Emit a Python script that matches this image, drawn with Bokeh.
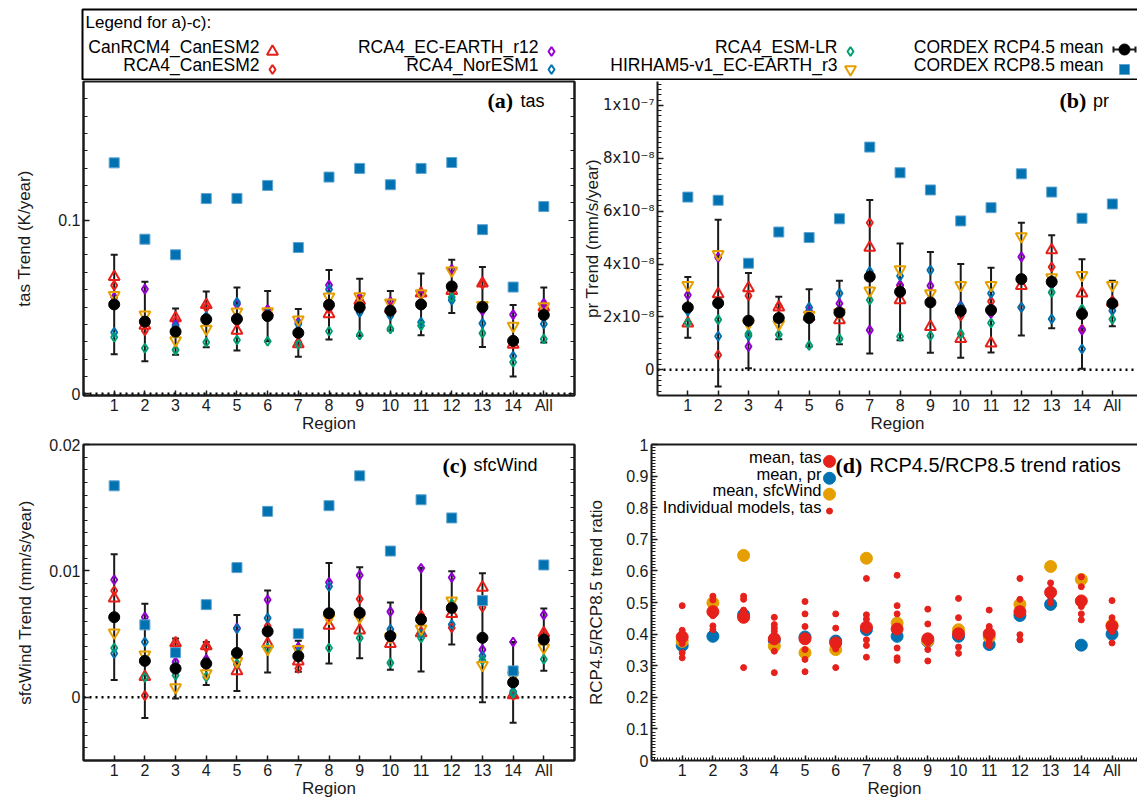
import numpy as np
from bokeh.plotting import figure
from bokeh.layouts import column, row
from bokeh.models import Range1d, FixedTicker, LinearAxis, Span, Whisker, TeeHead, ColumnDataSource
from bokeh.core.properties import value
from bokeh.embed import file_html
from bokeh.resources import INLINE

# ------------------------------------------------------------------ data
regions = ["1", "2", "3", "4", "5", "6", "7", "8", "9", "10", "11", "12", "13", "14", "All"]
models = ["CanRCM4_CanESM2", "RCA4_CanESM2", "RCA4_EC-EARTH_r12",
          "RCA4_NorESM1", "RCA4_ESM-LR", "HIRHAM5-v1_EC-EARTH_r3"]

# (a) near-surface temperature trend, K/year
tas_rcp85 = [0.1331, 0.0891, 0.0801, 0.1125, 0.1126, 0.1201, 0.0843, 0.1249,
             0.1299, 0.1205, 0.1299, 0.1333, 0.0946, 0.0615, 0.1079]
tas_rcp45 = [0.0515, 0.0416, 0.0358, 0.0429, 0.0431, 0.0448, 0.0351, 0.0513,
             0.0498, 0.0479, 0.0515, 0.0619, 0.0500, 0.0305, 0.0454]
tas_rcp45_spread = [0.0287, 0.0229, 0.0133, 0.0161, 0.0181, 0.0145, 0.0138, 0.0200,
                    0.0165, 0.0114, 0.0178, 0.0153, 0.0230, 0.0206, 0.0159]
tas_models = [
    [0.0674, 0.0393, 0.0437, 0.0513, 0.0364, 0.0470, 0.0287, 0.0460, 0.0536, 0.0490, 0.0579, 0.0594, 0.0636, 0.0284, 0.0498],
    [0.0625, 0.0364, 0.0420, 0.0498, 0.0412, 0.0483, 0.0297, 0.0489, 0.0517, 0.0485, 0.0570, 0.0594, 0.0632, 0.0290, 0.0500],
    [0.0556, 0.0603, 0.0397, 0.0440, 0.0517, 0.0485, 0.0412, 0.0626, 0.0556, 0.0531, 0.0575, 0.0718, 0.0479, 0.0456, 0.0521],
    [0.0354, 0.0420, 0.0387, 0.0445, 0.0527, 0.0465, 0.0402, 0.0602, 0.0469, 0.0450, 0.0412, 0.0540, 0.0406, 0.0216, 0.0402],
    [0.0326, 0.0262, 0.0253, 0.0297, 0.0310, 0.0303, 0.0284, 0.0360, 0.0339, 0.0374, 0.0393, 0.0556, 0.0349, 0.0182, 0.0316],
    [0.0569, 0.0456, 0.0307, 0.0374, 0.0473, 0.0475, 0.0427, 0.0559, 0.0561, 0.0525, 0.0579, 0.0709, 0.0511, 0.0391, 0.0504],
]

# (b) precipitation trend, in units of 1e-8 mm/s/year
PR_UNIT = 1e-8
pr_rcp85 = [6.53, 6.41, 4.03, 5.21, 5.00, 5.71, 8.42, 7.45, 6.80, 5.63, 6.13, 7.41, 6.72, 5.73, 6.27]
pr_rcp45 = [2.36, 2.52, 1.86, 1.96, 1.96, 2.17, 3.52, 2.95, 2.55, 2.23, 2.26, 3.43, 3.33, 2.11, 2.51]
pr_rcp45_spread = [1.15, 3.15, 1.80, 0.80, 1.09, 1.20, 2.90, 1.83, 1.90, 1.77, 1.60, 2.13, 1.76, 2.07, 0.86]
pr_models = [
    [1.76, 2.86, 3.09, 2.36, 2.00, 1.88, 4.62, 2.64, 1.63, 1.17, 1.00, 3.18, 4.53, 2.89, 2.55],
    [2.30, 0.56, 2.80, 2.42, 1.95, 2.17, 5.56, 3.18, 2.54, 2.04, 2.59, 2.36, 3.89, 1.54, 2.60],
    [2.83, 4.25, 0.88, 1.95, 2.23, 2.51, 1.50, 3.21, 3.18, 2.42, 2.13, 4.27, 3.22, 1.50, 2.50],
    [2.23, 1.27, 1.29, 1.93, 2.36, 2.89, 3.72, 3.55, 3.77, 2.39, 2.89, 2.36, 1.92, 0.79, 2.24],
    [1.78, 1.90, 1.36, 1.33, 0.92, 1.17, 2.64, 1.26, 1.29, 1.36, 1.77, 3.40, 2.93, 2.30, 1.91],
    [3.20, 4.37, 1.76, 1.73, 2.08, 2.17, 2.99, 3.80, 2.89, 3.20, 3.20, 5.04, 3.49, 3.58, 3.20],
]

# (c) near-surface wind speed trend, in units of 1e-3
WIND_UNIT = 1e-3
wind_rcp85 = [16.73, 5.73, 3.53, 7.33, 10.26, 14.71, 5.03, 15.16, 17.52, 11.57, 15.63, 14.19, 7.65, 2.09, 10.47]
wind_rcp45 = [6.34, 2.88, 2.28, 2.67, 3.51, 5.21, 3.25, 6.65, 6.68, 4.84, 6.15, 7.07, 4.71, 1.18, 4.56]
wind_rcp45_spread = [4.98, 4.52, 2.38, 1.70, 3.01, 3.24, 1.22, 3.97, 3.60, 2.66, 4.10, 2.90, 5.10, 3.20, 2.46]
wind_models = [
    [7.83, 1.62, 4.29, 4.06, 2.07, 4.24, 2.85, 5.68, 5.29, 4.24, 5.08, 6.60, 8.69, 0.18, 5.08],
    [8.43, 0.13, 4.10, 3.95, 2.60, 5.63, 2.28, 6.20, 7.78, 4.84, 6.52, 5.50, 7.12, 0.15, 4.95],
    [9.30, 6.34, 2.80, 3.01, 5.47, 7.72, 3.98, 9.09, 9.66, 6.78, 10.21, 9.48, 3.77, 4.37, 6.52],
    [3.46, 4.37, 2.40, 2.75, 5.42, 6.26, 3.60, 8.77, 6.60, 5.37, 5.03, 5.76, 3.27, 0.45, 4.60],
    [3.90, 1.57, 1.75, 1.62, 2.67, 3.90, 3.40, 3.90, 4.69, 2.72, 4.69, 7.40, 2.93, 0.31, 3.01],
    [5.11, 3.38, 0.79, 1.89, 2.85, 3.80, 3.80, 6.26, 6.34, 4.77, 5.42, 7.65, 2.54, 1.75, 3.93],
]

# (d) RCP4.5 / RCP8.5 trend ratios
ratio_tas = [0.391, 0.471, 0.453, 0.385, 0.385, 0.372, 0.422, 0.416, 0.385, 0.401, 0.401, 0.471, 0.532, 0.505, 0.425]
ratio_pr = [0.364, 0.393, 0.461, 0.380, 0.391, 0.378, 0.414, 0.393, 0.377, 0.393, 0.367, 0.459, 0.494, 0.365, 0.400]
ratio_wind = [0.377, 0.499, 0.649, 0.362, 0.341, 0.351, 0.640, 0.435, 0.379, 0.414, 0.391, 0.494, 0.614, 0.573, 0.429]
ratio_tas_models = [
    [0.490, 0.412, 0.403, 0.370, 0.341, 0.325],
    [0.520, 0.508, 0.476, 0.458, 0.426, 0.414],
    [0.520, 0.510, 0.476, 0.466, 0.455, 0.294],
    [0.453, 0.430, 0.419, 0.409, 0.346, 0.278],
    [0.503, 0.464, 0.424, 0.351, 0.320, 0.281],
    [0.464, 0.419, 0.367, 0.359, 0.353, 0.294],
    [0.576, 0.461, 0.447, 0.382, 0.364, 0.327],
    [0.586, 0.490, 0.464, 0.356, 0.325, 0.317],
    [0.479, 0.432, 0.382, 0.372, 0.351, 0.315],
    [0.513, 0.452, 0.405, 0.398, 0.359, 0.339],
    [0.476, 0.424, 0.409, 0.382, 0.372, 0.364],
    [0.576, 0.510, 0.479, 0.471, 0.398, 0.382],
    [0.562, 0.541, 0.534, 0.527, 0.518, 0.499],
    [0.581, 0.550, 0.510, 0.487, 0.464, 0.445],
    [0.506, 0.452, 0.424, 0.415, 0.408, 0.372],
]

# ------------------------------------------------------------------ styles
SANS = "Liberation Sans"
SERIF = "Liberation Serif"
RED = "#e6201a"
PURPLE = "#9400d3"
BLUE = "#0072b2"
GREEN = "#009e73"
ORANGE = "#e69f00"
INK = "#1a1a1a"

model_colors = [RED, RED, PURPLE, BLUE, GREEN, ORANGE]
model_markers = ["triangle", "diamond", "diamond", "diamond", "diamond", "inverted_triangle"]
model_sizes = [11, 9, 9, 9, 9, 11]

x_pos = list(range(1, len(regions) + 1))

# frame geometry of each panel, in page pixels
GEOM = {
    "a": dict(fig_x=0, fig_y=80, w=580, h=355, left=83, top=81, fw=491, fh=314, x=(0, 16)),
    "b": dict(fig_x=580, fig_y=80, w=557, h=355, left=651, top=81, fw=486, fh=314, x=(0, 15.83)),
    "c": dict(fig_x=0, fig_y=435, w=580, h=365, left=83, top=444, fw=491, fh=318, x=(0, 16)),
    "d": dict(fig_x=580, fig_y=435, w=557, h=365, left=651, top=444, fw=486, fh=318, x=(0, 15.83)),
}


def page_to_data(g, yr, px, py):
    """Convert a page pixel position inside a panel frame to data coordinates."""
    x = g["x"][0] + (px - g["left"]) / g["fw"] * (g["x"][1] - g["x"][0])
    y = yr[1] - (py - g["top"]) / g["fh"] * (yr[1] - yr[0])
    return x, y


def make_panel(key, y_range, yticks, yminor, ylabels, ylabel, ylabel_standoff,
               right_axis=True, open_right=False, top_line=True, xminor=None,
               ytick_font=SANS, ytick_size="16px"):
    g = GEOM[key]
    p = figure(width=g["w"], height=g["h"],
               x_range=Range1d(*g["x"]), y_range=Range1d(*y_range),
               output_backend="svg", toolbar_location=None,
               min_border_left=g["left"] - g["fig_x"],
               min_border_right=g["w"] - (g["left"] - g["fig_x"]) - g["fw"],
               min_border_top=g["top"] - g["fig_y"],
               min_border_bottom=g["h"] - (g["top"] - g["fig_y"]) - g["fh"])
    p.grid.visible = False

    xa = p.below[0]
    xa.ticker = FixedTicker(ticks=x_pos, minor_ticks=xminor or [])
    xa.major_label_overrides = {x: r for x, r in zip(x_pos, regions)}
    xa.axis_label = "Region"
    xa.axis_label_text_font = SANS
    xa.axis_label_text_font_style = "normal"
    xa.axis_label_text_font_size = "17px"
    xa.axis_label_text_color = INK
    xa.axis_label_standoff = -3
    xa.major_label_text_font = SANS
    xa.major_label_text_font_size = "16px"
    xa.major_label_text_color = INK
    xa.major_label_standoff = 1
    xa.major_tick_in = 5
    xa.major_tick_out = 0
    xa.minor_tick_in = 3
    xa.minor_tick_out = 0
    xa.axis_line_width = 2
    xa.axis_line_color = INK
    xa.major_tick_line_width = 1.5
    xa.major_tick_line_color = INK
    xa.minor_tick_line_color = INK

    ya = p.left[0]
    ya.ticker = FixedTicker(ticks=yticks, minor_ticks=yminor)
    ya.major_label_overrides = {t: s for t, s in zip(yticks, ylabels)}
    ya.axis_label = ylabel
    ya.axis_label_text_font = SANS
    ya.axis_label_text_font_style = "normal"
    ya.axis_label_text_font_size = "17px"
    ya.axis_label_text_color = INK
    ya.axis_label_standoff = ylabel_standoff
    ya.major_label_text_font = ytick_font
    ya.major_label_text_font_size = ytick_size
    ya.major_label_text_color = INK
    ya.major_label_standoff = 3
    ya.major_tick_in = 6
    ya.major_tick_out = 0
    ya.minor_tick_in = 4
    ya.minor_tick_out = 0
    ya.axis_line_width = 2
    ya.axis_line_color = INK
    ya.major_tick_line_width = 1.5
    ya.major_tick_line_color = INK
    ya.minor_tick_line_color = INK

    if open_right:
        # the frame runs off the right edge of the page: no closing line there
        p.outline_line_color = None
        if top_line:
            p.add_layout(LinearAxis(ticker=FixedTicker(ticks=[]), axis_line_width=2,
                                    axis_line_color=INK, major_label_standoff=0,
                                    major_tick_out=0, major_tick_in=0), "above")
    else:
        p.outline_line_color = INK
        p.outline_line_width = 2

    if right_axis:
        ra = LinearAxis(ticker=FixedTicker(ticks=yticks, minor_ticks=yminor),
                        major_label_overrides={t: "" for t in yticks},
                        major_label_standoff=0, major_tick_in=6, major_tick_out=0,
                        minor_tick_in=4, minor_tick_out=0, axis_line_width=2,
                        axis_line_color=INK, major_tick_line_color=INK,
                        minor_tick_line_color=INK)
        p.add_layout(ra, "right")
    return p


def draw_trends(p, scale, rcp85, rcp45, spread, model_vals):
    zero = Span(location=0, dimension="width", line_color="black",
                line_width=2.5, line_dash="2 4", level="underlay")
    p.add_layout(zero)
    for vals, col, mk, sz in zip(model_vals, model_colors, model_markers, model_sizes):
        p.scatter(x_pos, np.array(vals) * scale, marker=mk, size=sz,
                  fill_color=None, line_color=col, line_width=2)
    mean45 = np.array(rcp45) * scale
    half = np.array(spread) * scale
    src = ColumnDataSource(dict(x=x_pos, lo=mean45 - half, hi=mean45 + half))
    p.add_layout(Whisker(source=src, base="x", lower="lo", upper="hi",
                         line_color=INK, line_width=2,
                         upper_head=TeeHead(size=7, line_color=INK, line_width=2),
                         lower_head=TeeHead(size=7, line_color=INK, line_width=2)))
    p.scatter(x_pos, mean45, marker="circle", size=11, fill_color="black", line_color="black")
    p.scatter(x_pos, np.array(rcp85) * scale, marker="square", size=10,
              fill_color=BLUE, line_color="#5fa3cf", line_width=1)


def panel_title(p, key, yr, tag, name, px_tag, px_name, py, name_size="18px"):
    g = GEOM[key]
    x1, y1 = page_to_data(g, yr, px_tag, py)
    x2, _ = page_to_data(g, yr, px_name, py)
    p.text([x1], [y1], text=[tag], text_font=value(SERIF), text_font_style="bold",
           text_font_size=value("22px"), text_baseline="middle", text_color="black")
    p.text([x2], [y1], text=[name], text_font=value(SANS),
           text_font_size=value(name_size), text_baseline="middle", text_color="black")


# ------------------------------------------------------------------ panel (a)
ya_rng = (-0.001, 0.18)
pa = make_panel("a", ya_rng, [0, 0.1], list(np.round(np.arange(0, 0.181, 0.01), 3)),
                ["0", "0.1"], "tas Trend (K/year)", 21)
draw_trends(pa, 1.0, tas_rcp85, tas_rcp45, tas_rcp45_spread, tas_models)
panel_title(pa, "a", ya_rng, "(a)", "tas", 487, 520, 100)

# ------------------------------------------------------------------ panel (b)
yb_rng = (-0.97e-8, 1.09e-7)
pr_ticks = [0, 2e-8, 4e-8, 6e-8, 8e-8, 1e-7]
pr_labels = ["0", "2x10\u207b\u2078", "4x10\u207b\u2078", "6x10\u207b\u2078",
             "8x10\u207b\u2078", "1x10\u207b\u2077"]
pb = make_panel("b", yb_rng, pr_ticks, [i * 2e-9 for i in range(-4, 55)],
                pr_labels, "pr Trend (mm/s/year)", -2, right_axis=False,
                open_right=True, top_line=False,
                ytick_font="DejaVu Sans", ytick_size="15px")
draw_trends(pb, PR_UNIT, pr_rcp85, pr_rcp45, pr_rcp45_spread, pr_models)
panel_title(pb, "b", yb_rng, "(b)", "pr", 1058, 1092, 100)

# ------------------------------------------------------------------ panel (c)
yc_rng = (-0.005, 0.02)
pc = make_panel("c", yc_rng, [0, 0.01, 0.02], [i * 0.001 for i in range(-5, 21)],
                ["0", "0.01", "0.02"], "sfcWind Trend (mm/s/year)", 11)
draw_trends(pc, WIND_UNIT, wind_rcp85, wind_rcp45, wind_rcp45_spread, wind_models)
panel_title(pc, "c", yc_rng, "(c)", "sfcWind", 442, 473, 465)

# ------------------------------------------------------------------ panel (d)
yd_rng = (0, 1)
d_ticks = [round(0.1 * i, 1) for i in range(11)]
pd_ = make_panel("d", yd_rng, d_ticks, [i * 0.01 for i in range(101)],
                 ["0"] + [f"{t:.1f}" for t in d_ticks[1:-1]] + ["1"],
                 "RCP4.5/RCP8.5 trend ratio", 17, right_axis=False, open_right=True,
                 xminor=[i * 0.1 for i in range(0, 159)])
pd_.scatter(x_pos, ratio_pr, marker="circle", size=12, fill_color=BLUE, line_color=BLUE)
pd_.scatter(x_pos, ratio_wind, marker="circle", size=12, fill_color=ORANGE, line_color=ORANGE)
pd_.scatter(x_pos, ratio_tas, marker="circle", size=12, fill_color=RED, line_color=RED)
ind_x = [x for x, vals in zip(x_pos, ratio_tas_models) for _ in vals]
ind_y = [v for vals in ratio_tas_models for v in vals]
pd_.scatter(ind_x, ind_y, marker="circle", size=6, fill_color=RED, line_color=RED)
panel_title(pd_, "d", yd_rng, "(d)", "RCP4.5/RCP8.5 trend ratios", 835, 869, 465,
            name_size="20px")

# key for panel (d)
d_keys = ["mean, tas", "mean, pr", "mean, sfcWind", "Individual models, tas"]
d_key_colors = [RED, BLUE, ORANGE, RED]
d_key_sizes = [12, 12, 12, 6]
d_text_py = [457, 474, 490, 507]
d_mark_py = [461, 478, 494, 511]
gd = GEOM["d"]
for lab, col, sz, ty, my in zip(d_keys, d_key_colors, d_key_sizes, d_text_py, d_mark_py):
    tx, tyd = page_to_data(gd, yd_rng, 821, ty)
    mx, myd = page_to_data(gd, yd_rng, 829, my)
    pd_.text([tx], [tyd], text=[lab], text_align="right", text_baseline="middle",
             text_font=value(SANS), text_font_size=value("16.5px"), text_color="black")
    pd_.scatter([mx], [myd], marker="circle", size=sz, fill_color=col, line_color=col)

# ------------------------------------------------------------------ shared key for (a)-(c)
leg = figure(width=1137, height=80, x_range=Range1d(0, 1137), y_range=Range1d(80, 0),
             output_backend="svg", toolbar_location=None, min_border=0,
             x_axis_location=None, y_axis_location=None)
leg.grid.visible = False
leg.outline_line_color = None
leg.quad(left=[82], right=[1160], top=[9], bottom=[79], fill_color=None,
         line_color="black", line_width=2)
leg.text([85], [22], text=["Legend for a)-c):"], text_baseline="middle",
         text_font=value(SANS), text_font_size=value("17px"), text_color="black")

key_labels = models + ["CORDEX RCP4.5 mean", "CORDEX RCP8.5 mean"]
col_text_right = [259, 538, 837, 1103]
col_mark_x = [272, 551, 850, 1124]
row_text_y = [46, 64]
row_mark_y = [51, 69]
for i, lab in enumerate(key_labels):
    c, r = divmod(i, 2)
    leg.text([col_text_right[c]], [row_text_y[r]], text=[lab], text_align="right",
             text_baseline="middle", text_font=value(SANS),
             text_font_size=value("17.5px"), text_color="black")
    mx, my = col_mark_x[c], row_mark_y[r]
    if i < len(models):
        leg.scatter([mx], [my], marker=model_markers[i], size=model_sizes[i],
                    fill_color=None, line_color=model_colors[i], line_width=2)
    elif i == len(models):
        leg.segment([mx - 11], [my - 2], [mx + 11], [my - 2], line_color=INK, line_width=2)
        leg.segment([mx - 11, mx + 11], [my - 5, my - 5], [mx - 11, mx + 11], [my + 1, my + 1],
                    line_color=INK, line_width=2)
        leg.scatter([mx], [my - 2], marker="circle", size=11, fill_color="black", line_color="black")
    else:
        leg.scatter([mx], [my], marker="square", size=10, fill_color=BLUE,
                    line_color="#5fa3cf", line_width=1)

layout = column(leg, row(pa, pb), row(pc, pd_))
open("out.html", "w").write(file_html(layout, INLINE, "CORDEX regional trends"))
